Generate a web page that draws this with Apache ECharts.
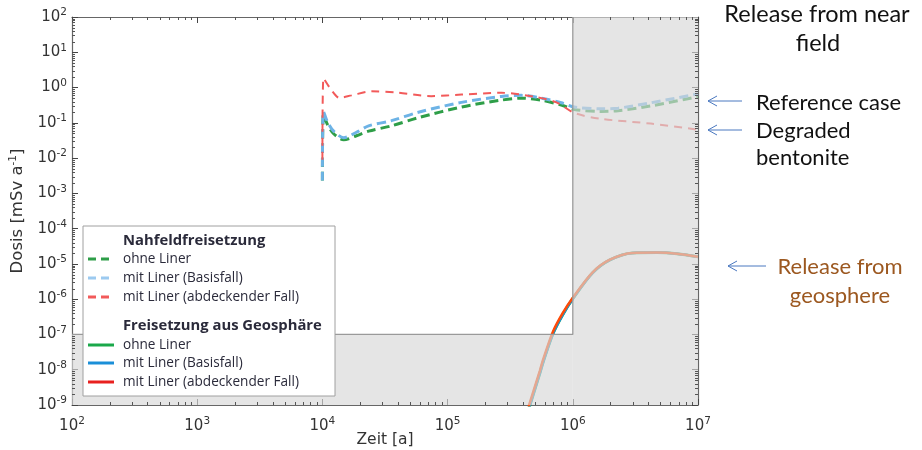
<!DOCTYPE html>
<html><head><meta charset="utf-8">
<script src="https://cdn.jsdelivr.net/npm/echarts@6/dist/echarts.min.js"></script>
<style>html,body{margin:0;padding:0;background:#fff}#c{width:922px;height:450px}</style>
</head><body><div id="c"></div>
<script>
// ---- tick labels (exponents of 10) ----
const xExponents = [2, 3, 4, 5, 6, 7];
const yExponents = [-9, -8, -7, -6, -5, -4, -3, -2, -1, 0, 1, 2];

// ---- Nahfeldfreisetzung (dashed) [Zeit a, Dosis mSv/a] ----
const nearOhneLiner = [
  [1.0e4, 0.0023], [1.02e4, 0.18], [1.10e4, 0.088], [1.23e4, 0.049], [1.48e4, 0.033],
  [1.87e4, 0.043], [2.34e4, 0.058], [3.56e4, 0.082], [5.85e4, 0.14], [1.29e5, 0.28],
  [2.69e5, 0.44], [3.88e5, 0.50], [5.6e5, 0.44], [8.1e5, 0.32], [1.03e6, 0.24],
  [1.68e6, 0.21], [2.3e6, 0.22], [4.2e6, 0.30], [1.0e7, 0.55]
];
const nearMitLinerBasis = [
  [1.0e4, 0.0023], [1.02e4, 0.21], [1.10e4, 0.105], [1.23e4, 0.058], [1.48e4, 0.038],
  [1.87e4, 0.054], [2.34e4, 0.082], [3.56e4, 0.115], [5.85e4, 0.20], [1.29e5, 0.38],
  [2.69e5, 0.56], [3.88e5, 0.60], [5.6e5, 0.50], [8.1e5, 0.37], [1.03e6, 0.28],
  [1.68e6, 0.25], [2.3e6, 0.26], [4.2e6, 0.37], [1.0e7, 0.66]
];
const nearMitLinerAbdeckend = [
  [1.0e4, 0.009], [1.02e4, 1.85], [1.18e4, 0.85], [1.37e4, 0.51], [1.71e4, 0.60],
  [2.47e4, 0.78], [3.9e4, 0.72], [7.4e4, 0.57], [1.29e5, 0.63], [2.69e5, 0.71],
  [4.92e5, 0.55], [7.4e5, 0.38], [1.03e6, 0.19], [1.68e6, 0.13], [4.2e6, 0.095],
  [1.0e7, 0.064]
];

// ---- Freisetzung aus Geosphäre (solid) ----
const geoOhneLiner = [
  [4.3e5, 5e-10], [4.55e5, 1.0e-9], [5.46e5, 8.1e-9], [5.78e5, 1.6e-8], [6.94e5, 1.05e-7],
  [8.3e5, 3.6e-7], [1.0e6, 1.03e-6], [1.44e6, 5.6e-6], [1.98e6, 1.3e-5], [3.0e6, 2.05e-5],
  [4.7e6, 2.1e-5], [6.8e6, 1.95e-5], [1.0e7, 1.6e-5]
];
const geoMitLinerBasis = [
  [4.3e5, 5e-10], [4.55e5, 1.0e-9], [5.46e5, 8.1e-9], [5.78e5, 1.6e-8], [6.94e5, 1.05e-7],
  [8.3e5, 3.6e-7], [1.0e6, 1.03e-6], [1.44e6, 5.6e-6], [1.98e6, 1.3e-5], [3.0e6, 2.05e-5],
  [4.7e6, 2.1e-5], [6.8e6, 1.95e-5], [1.0e7, 1.6e-5]
];
const geoMitLinerAbdeckend = [
  [4.3e5, 6e-10], [4.55e5, 1.2e-9], [5.46e5, 9.5e-9], [5.78e5, 1.9e-8], [6.94e5, 1.2e-7],
  [8.3e5, 4.0e-7], [1.0e6, 1.1e-6], [1.44e6, 5.8e-6], [1.98e6, 1.32e-5], [3.0e6, 2.05e-5],
  [4.7e6, 2.1e-5], [6.8e6, 1.95e-5], [1.0e7, 1.6e-5]
];

// ---- shaded regions [x0, x1, y0, y1] and their outline ----
const grayRegions = [[1e2, 1e6, 1e-9, 1e-7], [1e6, 1e7, 1e-9, 1e2]];
const regionOutline = [[1e2, 1e-7], [1e6, 1e-7], [1e6, 1e2]];

// ---- texts ----
const legendHeaders = ['Nahfeldfreisetzung', 'Freisetzung aus Geosphäre'];
const legendNames = ['ohne Liner', 'mit Liner (Basisfall)', 'mit Liner (abdeckender Fall)'];
const xAxisTitle = 'Zeit [a]';
const annotNear = ['Release from near', 'field'];
const annotRef = 'Reference case';
const annotDeg = ['Degraded', 'bentonite'];
const annotGeo = ['Release from', 'geosphere'];

const xMin = Math.pow(10, xExponents[0]), xMax = Math.pow(10, xExponents[xExponents.length - 1]);
const yMin = Math.pow(10, yExponents[0]), yMax = Math.pow(10, yExponents[yExponents.length - 1]);

// minor ticks (2..9 x 10^n)
const minorTicks = [];
for (let i = 0; i < xExponents.length - 1; i++) for (let k = 2; k <= 9; k++) minorTicks.push([k * Math.pow(10, xExponents[i]), 0]);
for (let i = 0; i < yExponents.length - 1; i++) for (let k = 2; k <= 9; k++) minorTicks.push([k * Math.pow(10, yExponents[i]), 1]);

const FONT = 'DejaVu Sans';
const TXT = '#333';
function powLabel(v) {
  const e = Math.round(Math.log10(v));
  return '{b|10}{s|' + e + '}';
}
const tickRich = {
  b: { fontFamily: FONT, fontSize: 15, color: TXT, lineHeight: 20 },
  s: { fontFamily: FONT, fontSize: 10.5, color: TXT, lineHeight: 20, verticalAlign: 'top' }
};

const C = {
  gDash: '#2e9e48', bDash: '#6db3e6', rDash: '#f25a5a',
  gSolid: '#1aa84a', bSolid: '#1a8fd8', rSolid: '#ff4a08'
};

function nearSeries(name, data, color, width, dash) {
  return { name, type: 'line', data, showSymbol: false, symbol: 'none', smooth: 0.3, z: 3,
    lineStyle: { color, width, type: dash }, xAxisIndex: 0, yAxisIndex: 0, clip: true };
}
function geoSeries(name, data, color, width) {
  return { name, type: 'line', data, showSymbol: false, symbol: 'none', smooth: 0.3, z: 3,
    lineStyle: { color, width }, xAxisIndex: 0, yAxisIndex: 0, clip: true };
}

const axisLineStyle = { color: '#666', width: 1.2 };
const logX = (pos, show) => ({
  type: 'log', logBase: 10, min: xMin, max: xMax, position: pos, interval: 1,
  axisLine: { show: true, lineStyle: axisLineStyle, onZero: false },
  axisTick: { show: true, inside: true, length: 6, lineStyle: { color: '#444' } },
  splitLine: { show: false },
  axisLabel: show ? { formatter: powLabel, rich: tickRich, margin: 11, interval: 0 } : { show: false },
  name: show ? xAxisTitle : '', nameLocation: 'middle', nameGap: 27, nameMoveOverlap: false,
  nameTextStyle: { fontFamily: FONT, fontSize: 15.5, color: TXT }
});
const logY = (pos, show) => ({
  type: 'log', logBase: 10, min: yMin, max: yMax, position: pos, interval: 1,
  axisLine: { show: true, lineStyle: axisLineStyle, onZero: false },
  axisTick: { show: true, inside: true, length: 6, lineStyle: { color: '#444' } },
  splitLine: { show: false },
  axisLabel: show ? { formatter: powLabel, rich: tickRich, margin: 5, interval: 0 } : { show: false },
  name: show ? '{a|Dosis [mSv a}{s|-1}{a|]}' : '', nameLocation: 'middle', nameGap: 44,
  nameTextStyle: { rich: {
    a: { fontFamily: FONT, fontSize: 16.5, color: TXT, lineHeight: 20 },
    s: { fontFamily: FONT, fontSize: 10.5, color: TXT, lineHeight: 20, verticalAlign: 'top' } } }
});

// legend graphic
const LX = 83, LY = 226;
const legendRows = [
  { t: legendHeaders[0], y: 241, bold: true },
  { t: legendNames[0], y: 259, c: C.gDash, dash: true },
  { t: legendNames[1], y: 278, c: '#9ccaf0', dash: true },
  { t: legendNames[2], y: 297, c: C.rDash, dash: true },
  { t: legendHeaders[1], y: 326, bold: true },
  { t: legendNames[0], y: 345, c: C.gSolid },
  { t: legendNames[1], y: 363, c: C.bSolid },
  { t: legendNames[2], y: 382, c: '#e8201f' }
];
const legendChildren = [{ type: 'rect', z: 100, shape: { x: LX, y: LY, width: 252, height: 170 },
  style: { fill: '#fff', stroke: '#a0a0a0', lineWidth: 1 } }];
legendRows.forEach(r => {
  legendChildren.push({ type: 'text', z: 101, style: { x: 123, y: r.y, text: r.t, fill: '#2a2a3a',
    font: (r.bold ? 'bold 14.8px ' : '13.6px ') + '"Open Sans"', verticalAlign: 'middle' } });
  if (r.c) legendChildren.push({ type: 'line', z: 101, shape: { x1: 88, y1: r.y, x2: 114, y2: r.y },
    style: { stroke: r.c, lineWidth: 3, lineDash: r.dash ? [8, 5] : null } });
});

function arrow(x1, x2, y) {
  return [
    { type: 'line', z: 100, shape: { x1, y1: y, x2, y2: y }, style: { stroke: '#4a78c0', lineWidth: 1 } },
    { type: 'polyline', z: 100, shape: { points: [[x2 + 9, y - 5], [x2, y], [x2 + 9, y + 5]] }, style: { stroke: '#4a78c0', lineWidth: 1, fill: null } }
  ];
}
const AF1 = '23.5px Lato', AF = '22px Lato';
const annChildren = [
  { type: 'text', z: 100, style: { x: 817, y: 14, text: annotNear[0], font: AF1, fill: '#111', align: 'center', verticalAlign: 'middle' } },
  { type: 'text', z: 100, style: { x: 818, y: 43, text: annotNear[1], font: AF1, fill: '#111', align: 'center', verticalAlign: 'middle' } },
  { type: 'text', z: 100, style: { x: 756, y: 103, text: annotRef, font: AF, fill: '#111', verticalAlign: 'middle' } },
  { type: 'text', z: 100, style: { x: 756, y: 131, text: annotDeg[0], font: AF, fill: '#111', verticalAlign: 'middle' } },
  { type: 'text', z: 100, style: { x: 756, y: 158, text: annotDeg[1], font: AF, fill: '#111', verticalAlign: 'middle' } },
  { type: 'text', z: 100, style: { x: 840, y: 267, text: annotGeo[0], font: AF, fill: '#9c5820', align: 'center', verticalAlign: 'middle' } },
  { type: 'text', z: 100, style: { x: 840, y: 296, text: annotGeo[1], font: AF, fill: '#9c5820', align: 'center', verticalAlign: 'middle' } }
].concat(arrow(742, 708, 101), arrow(742, 708, 130), arrow(766, 728, 266));

const chart = echarts.init(document.getElementById('c'), null, { renderer: 'canvas' });
chart.setOption({
  animation: false,
  backgroundColor: '#fff',
  grid: { left: 72, right: 224, top: 17, bottom: 45, containLabel: false, outerBoundsMode: 'none' },
  xAxis: [logX('bottom', true), logX('top', false)],
  yAxis: [logY('left', true), logY('right', false)],
  graphic: { elements: legendChildren.concat(annChildren) },
  series: [
    geoSeries('geo ohne', geoOhneLiner, C.gSolid, 3),
    geoSeries('geo basis', geoMitLinerBasis, C.bSolid, 2.5),
    geoSeries('geo abd', geoMitLinerAbdeckend, C.rSolid, 2.5),
    nearSeries('near ohne', nearOhneLiner, C.gDash, 3, [9, 5]),
    nearSeries('near basis', nearMitLinerBasis, C.bDash, 3, [9, 5]),
    nearSeries('near abd', nearMitLinerAbdeckend, C.rDash, 2, [8, 6]),
    { type: 'custom', name: 'shade', z: 5, silent: true, data: grayRegions,
      renderItem: (params, api) => {
        const p0 = api.coord([api.value(0), api.value(3)]);
        const p1 = api.coord([api.value(1), api.value(2)]);
        return { type: 'rect', shape: { x: p0[0], y: p0[1], width: p1[0] - p0[0], height: p1[1] - p0[1] },
          style: { fill: 'rgba(215,215,215,0.66)' } };
      } },
    { type: 'line', name: 'outline', data: regionOutline, z: 6, silent: true, symbol: 'none',
      lineStyle: { color: '#9a9a9a', width: 1.3 } },
    { type: 'custom', name: 'minor', z: 7, silent: true, data: minorTicks,
      renderItem: (params, api) => {
        const cs = params.coordSys; const v = api.value(0);
        const st = { stroke: '#555', lineWidth: 1 };
        if (api.value(1) === 0) {
          const x = Math.round(api.coord([v, yMin])[0]) + 0.5;
          return { type: 'group', children: [
            { type: 'line', shape: { x1: x, y1: cs.y + cs.height, x2: x, y2: cs.y + cs.height - 3 }, style: st },
            { type: 'line', shape: { x1: x, y1: cs.y, x2: x, y2: cs.y + 3 }, style: st }] };
        } else {
          const y = Math.round(api.coord([xMin, v])[1]) + 0.5;
          return { type: 'group', children: [
            { type: 'line', shape: { x1: cs.x, y1: y, x2: cs.x + 3, y2: y }, style: st },
            { type: 'line', shape: { x1: cs.x + cs.width, y1: y, x2: cs.x + cs.width - 3, y2: y }, style: st }] };
        }
      } }
  ]
});
</script></body></html>
